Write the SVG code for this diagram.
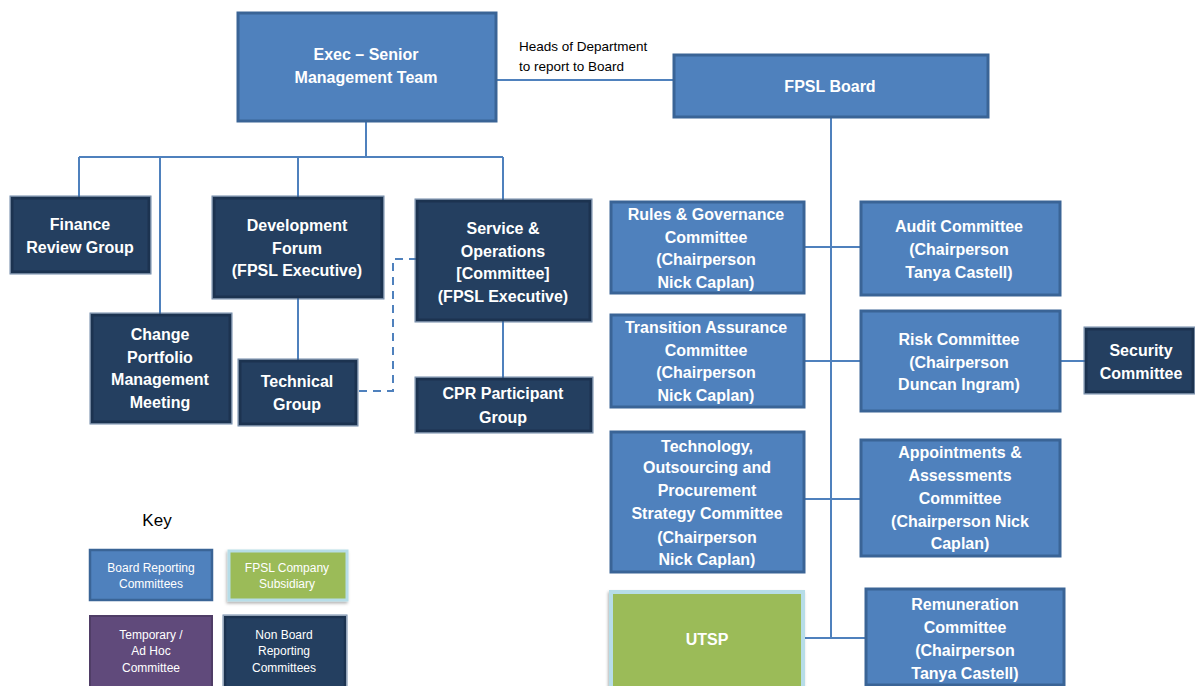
<svg xmlns="http://www.w3.org/2000/svg" width="1195" height="686" viewBox="0 0 1195 686">
  <defs>
    <filter id="soft" x="-10%" y="-10%" width="125%" height="130%">
      <feDropShadow dx="-1" dy="2" stdDeviation="1.5" flood-color="#000" flood-opacity="0.3"/>
    </filter>
  </defs>
  <style>
    .mid { fill: #4F81BD; stroke: #3A6496; stroke-width: 3; }
    .dark { fill: #243F60; stroke: #1C3350; stroke-width: 3; }
    .dark-edge { fill: none; stroke: #4A6A92; stroke-width: 1; stroke-opacity: 0.8; }
    .green { fill: #9BBB59; stroke: #B7DDE8; stroke-width: 4; filter: url(#soft); }
    .purple { fill: #604A7B; stroke: #4F3D66; stroke-width: 2; }
    .lbl { font-family: "Liberation Sans", Arial, sans-serif; font-weight: bold; font-size: 16px; fill: #FFFFFF; text-anchor: middle; }
    .key { font-family: "Liberation Sans", Arial, sans-serif; font-size: 12px; fill: #FFFFFF; text-anchor: middle; }
    .note { font-family: "Liberation Sans", Arial, sans-serif; font-size: 13.5px; fill: #000000; }
    .link { fill: none; stroke: #4F81BD; stroke-width: 2; }
    .dash { fill: none; stroke: #4F81BD; stroke-width: 2; stroke-dasharray: 8 6; }
  </style>
  <rect width="1195" height="686" fill="#FFFFFF"/>

  <!-- connectors -->
  <g id="connectors">
    <!-- executive tree -->
    <path class="link" d="M366 121 V157 M79 157 H503 M79 157 V198 M160 157 V314 M298 157 V198 M503 157 V200"/>
    <path class="link" d="M298 297 V361 M503 320 V379"/>
    <path class="dash" d="M417 259 H393 V391 H356"/>
    <!-- exec to board -->
    <path class="link" d="M496 80 H674"/>
    <!-- board spine and committees -->
    <path class="link" d="M831 117 V638"/>
    <path class="link" d="M804 247 H861 M804 361 H861 M804 499 H861 M803 638 H866 M1060 361 H1086"/>
  </g>

  <text class="note" x="519" y="51">Heads of Department</text>
  <text class="note" x="519" y="71">to report to Board</text>

  <!-- executive side -->
  <g id="exec">
    <rect class="mid" x="238" y="13" width="258" height="108"/>
    <text class="lbl" x="366" y="60">Exec – Senior</text>
    <text class="lbl" x="366" y="83">Management Team</text>
  </g>
  <g id="finance">
    <rect class="dark" x="12" y="198" width="137" height="74"/>
    <rect class="dark-edge" x="10" y="196" width="141" height="78"/>
    <text class="lbl" x="80" y="230">Finance</text>
    <text class="lbl" x="80" y="253">Review Group</text>
  </g>
  <g id="development">
    <rect class="dark" x="214" y="198" width="168" height="99"/>
    <rect class="dark-edge" x="212" y="196" width="172" height="103"/>
    <text class="lbl" x="297" y="231">Development</text>
    <text class="lbl" x="297" y="254">Forum</text>
    <text class="lbl" x="297" y="276">(FPSL Executive)</text>
  </g>
  <g id="service">
    <rect class="dark" x="417" y="201" width="173" height="119"/>
    <rect class="dark-edge" x="415" y="199" width="177" height="123"/>
    <text class="lbl" x="503" y="234">Service &amp;</text>
    <text class="lbl" x="503" y="257">Operations</text>
    <text class="lbl" x="503" y="279">[Committee]</text>
    <text class="lbl" x="503" y="302">(FPSL Executive)</text>
  </g>
  <g id="change-portfolio">
    <rect class="dark" x="92" y="315" width="138" height="107"/>
    <rect class="dark-edge" x="90" y="313" width="142" height="111"/>
    <text class="lbl" x="160" y="340">Change</text>
    <text class="lbl" x="160" y="363">Portfolio</text>
    <text class="lbl" x="160" y="385">Management</text>
    <text class="lbl" x="160" y="408">Meeting</text>
  </g>
  <g id="technical">
    <rect class="dark" x="240" y="361" width="116" height="63"/>
    <rect class="dark-edge" x="238" y="359" width="120" height="67"/>
    <text class="lbl" x="297" y="387">Technical</text>
    <text class="lbl" x="297" y="410">Group</text>
  </g>
  <g id="cpr">
    <rect class="dark" x="417" y="379" width="174" height="52"/>
    <rect class="dark-edge" x="415" y="377" width="178" height="56"/>
    <text class="lbl" x="503" y="399">CPR Participant</text>
    <text class="lbl" x="503" y="423">Group</text>
  </g>

  <!-- board side -->
  <g id="board">
    <rect class="mid" x="674" y="55" width="314" height="62"/>
    <text class="lbl" x="830" y="92">FPSL Board</text>
  </g>
  <g id="rules">
    <rect class="mid" x="611" y="202" width="193" height="91"/>
    <text class="lbl" x="706" y="220">Rules &amp; Governance</text>
    <text class="lbl" x="706" y="243">Committee</text>
    <text class="lbl" x="706" y="265">(Chairperson</text>
    <text class="lbl" x="706" y="288">Nick Caplan)</text>
  </g>
  <g id="audit">
    <rect class="mid" x="861" y="202" width="199" height="93"/>
    <text class="lbl" x="959" y="232">Audit Committee</text>
    <text class="lbl" x="959" y="255">(Chairperson</text>
    <text class="lbl" x="959" y="278">Tanya Castell)</text>
  </g>
  <g id="transition">
    <rect class="mid" x="611" y="315" width="193" height="92"/>
    <text class="lbl" x="706" y="333">Transition Assurance</text>
    <text class="lbl" x="706" y="356">Committee</text>
    <text class="lbl" x="706" y="378">(Chairperson</text>
    <text class="lbl" x="706" y="401">Nick Caplan)</text>
  </g>
  <g id="risk">
    <rect class="mid" x="861" y="311" width="199" height="100"/>
    <text class="lbl" x="959" y="345">Risk Committee</text>
    <text class="lbl" x="959" y="368">(Chairperson</text>
    <text class="lbl" x="959" y="390">Duncan Ingram)</text>
  </g>
  <g id="security">
    <rect class="dark" x="1086" y="329" width="107" height="63"/>
    <rect class="dark-edge" x="1084" y="327" width="111" height="67"/>
    <text class="lbl" x="1141" y="356">Security</text>
    <text class="lbl" x="1141" y="379">Committee</text>
  </g>
  <g id="technology">
    <rect class="mid" x="611" y="432" width="193" height="140"/>
    <text class="lbl" x="707" y="452">Technology,</text>
    <text class="lbl" x="707" y="473">Outsourcing and</text>
    <text class="lbl" x="707" y="496">Procurement</text>
    <text class="lbl" x="707" y="519">Strategy Committee</text>
    <text class="lbl" x="707" y="543">(Chairperson</text>
    <text class="lbl" x="707" y="565">Nick Caplan)</text>
  </g>
  <g id="appointments">
    <rect class="mid" x="861" y="440" width="199" height="116"/>
    <text class="lbl" x="960" y="458">Appointments &amp;</text>
    <text class="lbl" x="960" y="481">Assessments</text>
    <text class="lbl" x="960" y="504">Committee</text>
    <text class="lbl" x="960" y="527">(Chairperson Nick</text>
    <text class="lbl" x="960" y="549">Caplan)</text>
  </g>
  <g id="utsp">
    <rect class="green" x="611" y="592" width="192" height="100"/>
    <text class="lbl" x="707" y="645">UTSP</text>
  </g>
  <g id="remuneration">
    <rect class="mid" x="866" y="589" width="198" height="96"/>
    <text class="lbl" x="965" y="610">Remuneration</text>
    <text class="lbl" x="965" y="633">Committee</text>
    <text class="lbl" x="965" y="656">(Chairperson</text>
    <text class="lbl" x="965" y="679">Tanya Castell)</text>
  </g>

  <!-- key -->
  <g id="key">
    <text x="157" y="526" font-family="'Liberation Sans', Arial, sans-serif" font-size="17" fill="#000000" text-anchor="middle">Key</text>
    <g id="key-board">
      <rect class="mid" x="90" y="550" width="122" height="50" style="stroke-width:2.5"/>
      <text class="key" x="151" y="572">Board Reporting</text>
      <text class="key" x="151" y="588">Committees</text>
    </g>
    <g id="key-subsidiary">
      <rect class="green" x="229" y="551" width="118" height="49" style="stroke-width:3"/>
      <text class="key" x="287" y="572">FPSL Company</text>
      <text class="key" x="287" y="588">Subsidiary</text>
    </g>
    <g id="key-temporary">
      <rect class="purple" x="90" y="616" width="122" height="76"/>
      <text class="key" x="151" y="639">Temporary  /</text>
      <text class="key" x="151" y="655">Ad Hoc</text>
      <text class="key" x="151" y="672">Committee</text>
    </g>
    <g id="key-nonboard">
      <rect class="dark" x="225" y="617" width="120" height="75" style="stroke-width:2.5"/>
      <rect class="dark-edge" x="223" y="615" width="124" height="79"/>
      <text class="key" x="284" y="639">Non Board</text>
      <text class="key" x="284" y="655">Reporting</text>
      <text class="key" x="284" y="672">Committees</text>
    </g>
  </g>
</svg>
